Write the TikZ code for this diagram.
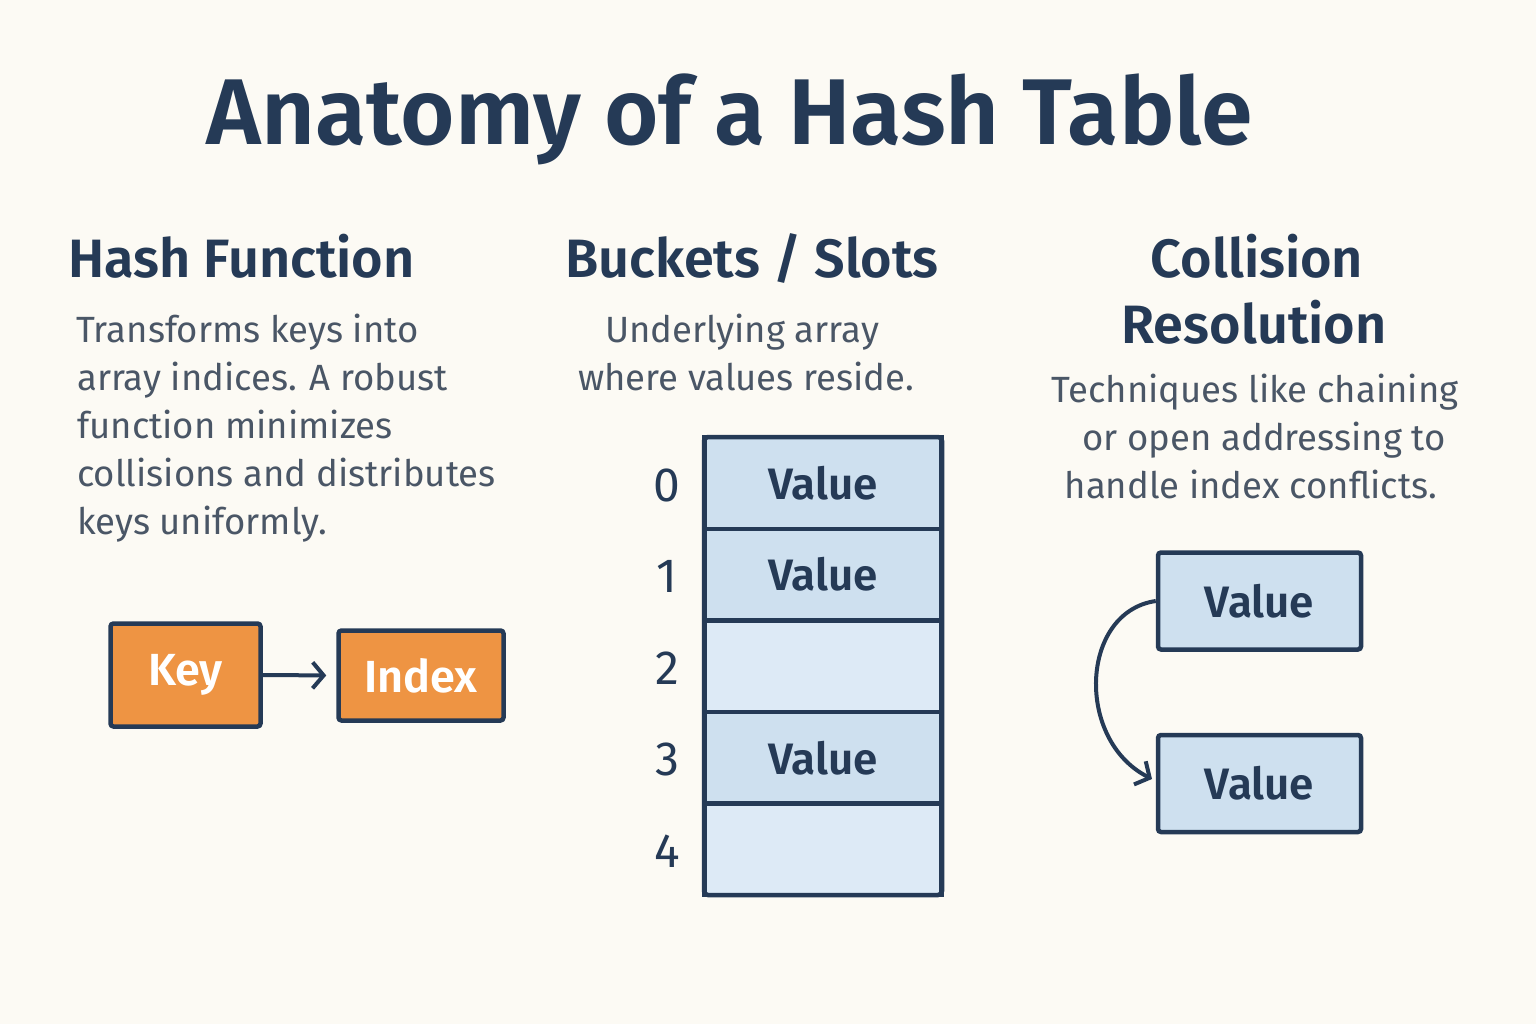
\documentclass[tikz,border=0pt]{standalone}
\usepackage{fontspec}
\setmainfont{Fira Sans}[BoldFont={Fira Sans SemiBold}]
\usetikzlibrary{arrows.meta}
\definecolor{bg}{HTML}{FCFAF4}
\definecolor{navy}{HTML}{253A56}
\definecolor{bodyc}{HTML}{4A5666}
\definecolor{orangec}{HTML}{EE9443}
\definecolor{cellv}{HTML}{CEE0EF}
\definecolor{celle}{HTML}{DDEAF6}
\tikzset{
  title/.style={anchor=base, inner sep=0, text=navy, font=\fontsize{93.4}{110}\selectfont\bfseries},
  head/.style={inner sep=0, text=navy, font=\fontsize{54}{60}\selectfont\bfseries},
  body/.style={inner sep=0, text=bodyc, font=\fontsize{36.5}{46}\selectfont},
  obox/.style={draw=navy, line width=4.5, fill=orangec, rounded corners=3, text=white, font=\fontsize{45}{50}\selectfont\bfseries},
  vcell/.style={draw=navy, line width=4.5, fill=cellv, text=navy, font=\fontsize{44}{50}\selectfont\bfseries},
  ecell/.style={draw=navy, line width=4.5, fill=celle},
  idx/.style={inner sep=0, text=navy, font=\fontsize{48}{52}\selectfont},
  conn/.style={draw=navy, line width=4, -{Straight Barb[length=11,width=26,line width=4]}},
}
\begin{document}
\begin{tikzpicture}[x=1pt,y=-1pt]
\fill[bg] (0,0) rectangle (1536,1024);
\useasboundingbox (0,0) rectangle (1536,1024);
% title
\node[title] (t) at (730,145) {Anatomy of a Hash Table};
% column 1
\node[head, anchor=base west] (h1) at (68,278) {Hash Function};
\node[body, anchor=base west] (b11) at (76,342) {Transforms keys into};
\node[body, anchor=base west] (b12) at (77,390) {array indices. A robust};
\node[body, anchor=base west] (b13) at (77,438) {function minimizes};
\node[body, anchor=base west] (b14) at (77,486) {collisions and distributes};
\node[body, anchor=base west] (b15) at (77,534) {keys uniformly.};
\node[obox, minimum width=150, minimum height=103] (key) at (185.5,675) {Key};
\node[obox, minimum width=165, minimum height=90] (index) at (421,675.5) {Index};
\draw[conn, shorten >=10] (key.east) -- (index.west);
% column 2
\node[head, anchor=base] (h2) at (752,278) {Buckets / Slots};
\node[body, anchor=base] (b21) at (742,342) {Underlying array};
\node[body, anchor=base] (b22) at (746,390) {where values reside.};
\foreach \i/\lab in {0/Value,1/Value,3/Value}{
  \node[vcell, minimum width=237, minimum height=91.6] (cell\i) at (823,483+91.6*\i) {\lab};
}
\foreach \i in {2,4}{
  \node[ecell, minimum width=237, minimum height=91.6] (cell\i) at (823,483+91.6*\i) {};
}
\draw[navy, line width=4.5, rounded corners=4] (704,437) rectangle (942,895);
\foreach \i in {0,...,4}{
  \node[idx] (i\i) at (667,485+91.6*\i) {\i};
}
% column 3
\node[head, anchor=base] (h3) at (1257,278) {Collision};
\node[head, anchor=base] (h3b) at (1254,343) {Resolution};
\node[body, anchor=base] (b31) at (1255,402) {Techniques like chaining};
\node[body, anchor=base] (b32) at (1264,450) {or open addressing to};
\node[body, anchor=base] (b33) at (1251,498) {handle index conflicts.};
\node[vcell, rounded corners=3, minimum width=203, minimum height=97] (c1) at (1259.5,601) {Value};
\node[vcell, rounded corners=3, minimum width=203, minimum height=97] (c2) at (1259.5,783.5) {Value};
\coordinate (tip) at (1152,779);
\draw[conn] (c1.west) .. controls (1080,612) and (1075,740) .. (tip);
\end{tikzpicture}
\end{document}
